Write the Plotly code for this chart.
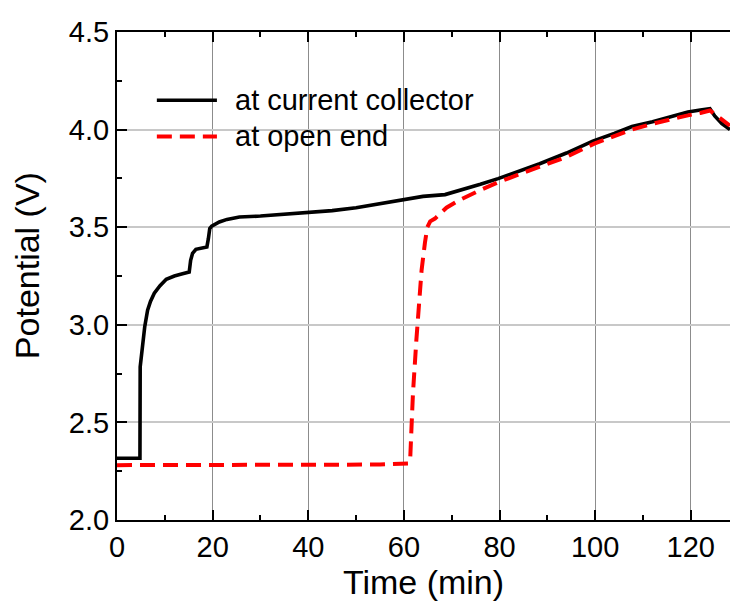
import plotly.graph_objects as go

# Potential at the current collector (black solid)
time_cc = [0, 2, 4.8, 4.85, 5.1, 5.4, 5.8, 6.4, 7.0, 7.8, 9.0, 10.3, 12.0, 13.5,
           15.1, 15.4, 15.8, 16.5, 17.5, 18.8, 19.1, 19.4, 19.8, 20.5, 21.4, 23.0,
           25.6, 30, 38, 45, 50, 55, 60, 64, 68.6, 72, 76, 79.7, 84, 88.4, 94,
           99.5, 104, 107.7, 112, 116, 119.4, 122, 124.0, 125.0, 126.5, 128.2]
volt_cc = [2.316, 2.316, 2.316, 2.785, 2.84, 2.906, 2.99, 3.075, 3.12, 3.162, 3.20,
           3.233, 3.25, 3.26, 3.27, 3.33, 3.366, 3.387, 3.393, 3.399, 3.44, 3.493,
           3.505, 3.515, 3.527, 3.54, 3.552, 3.557, 3.57, 3.585, 3.60, 3.62, 3.64,
           3.658, 3.667, 3.69, 3.72, 3.749, 3.785, 3.825, 3.88, 3.941, 3.98, 4.016,
           4.04, 4.065, 4.09, 4.10, 4.107, 4.07, 4.03, 4.0]

# Potential at the open end (red dashed)
time_oe = [0, 20, 40, 55, 60.9, 61.3, 61.6, 61.9, 62.6, 63.2, 63.7, 64.4, 64.9,
           65.5, 66.5, 68.9, 71.7, 75.9, 79.7, 84, 88.4, 94, 99.8, 104, 107.7, 112,
           116, 119.4, 122, 124.0, 125.5, 126.5, 128.2]
volt_oe = [2.281, 2.281, 2.282, 2.284, 2.29, 2.30, 2.48, 2.65, 2.92, 3.11, 3.28,
           3.42, 3.50, 3.53, 3.544, 3.60, 3.64, 3.689, 3.73, 3.77, 3.808, 3.86,
           3.928, 3.965, 4.0, 4.03, 4.055, 4.073, 4.085, 4.098, 4.07, 4.05, 4.02]

series_names = ["at current collector", "at open end"]
x_ticks = [0, 20, 40, 60, 80, 100, 120]
y_ticks = [2.0, 2.5, 3.0, 3.5, 4.0, 4.5]

FONT = "Liberation Sans, Arial, sans-serif"
BLACK_LINE = dict(color="black", width=3.6)
RED_LINE = dict(color="#ff0000", width=4, dash="15px,8px")

fig = go.Figure()
fig.add_trace(go.Scatter(x=time_cc, y=volt_cc, mode="lines", name=series_names[0],
                         line=BLACK_LINE, showlegend=False))
fig.add_trace(go.Scatter(x=time_oe, y=volt_oe, mode="lines", name=series_names[1],
                         line=RED_LINE, showlegend=False))

# Legend: white box over the grid, line samples and labels
fig.add_shape(type="rect", xref="paper", yref="paper", x0=0.042, x1=0.560,
              y0=0.737, y1=0.901, fillcolor="white", line=dict(width=0),
              layer="between")
legend_rows = [(0.860, BLACK_LINE), (0.786, RED_LINE)]
for (yy, ln), label in zip(legend_rows, series_names):
    fig.add_shape(type="line", xref="paper", yref="paper", x0=0.065, x1=0.163,
                  y0=yy, y1=yy, line=ln, layer="above")
    fig.add_annotation(xref="paper", yref="paper", x=0.189, y=yy, text=label,
                       showarrow=False, xanchor="left", yanchor="middle",
                       font=dict(family=FONT, size=29, color="black"))

# Y-axis title
fig.add_annotation(xref="paper", yref="paper", x=-0.147, y=0.522,
                   text="Potential (V)", textangle=-90, showarrow=False,
                   xanchor="center", yanchor="middle",
                   font=dict(family=FONT, size=34, color="black"))

fig.update_xaxes(range=[0, 128.2], tickvals=x_ticks, ticks="inside", ticklen=10,
                 tickwidth=2, tickcolor="black", showline=True, linecolor="black",
                 linewidth=2, mirror="ticks", showgrid=True, gridcolor="#8c8c8c",
                 gridwidth=1, zeroline=False,
                 minor=dict(dtick=10, ticks="inside", ticklen=5, tickwidth=2,
                            tickcolor="black", showgrid=False),
                 tickfont=dict(family=FONT, size=29, color="black"),
                 title=dict(text="Time (min)", standoff=4,
                            font=dict(family=FONT, size=34, color="black")))
fig.update_yaxes(range=[2.0, 4.5], tickvals=y_ticks, tickformat=".1f",
                 ticks="inside", ticklen=10, tickwidth=2, tickcolor="black",
                 showline=True, linecolor="black", linewidth=2, mirror=False,
                 showgrid=True, gridcolor="#c8c8c8", gridwidth=1.5, zeroline=False,
                 minor=dict(dtick=0.25, ticks="inside", ticklen=5, tickwidth=2,
                            tickcolor="black", showgrid=False),
                 tickfont=dict(family=FONT, size=29, color="black"))

fig.update_layout(width=730, height=608, plot_bgcolor="white", paper_bgcolor="white",
                  margin=dict(l=117, r=0, t=32, b=88, autoexpand=False),
                  showlegend=False)

fig.write_html("out.html")
